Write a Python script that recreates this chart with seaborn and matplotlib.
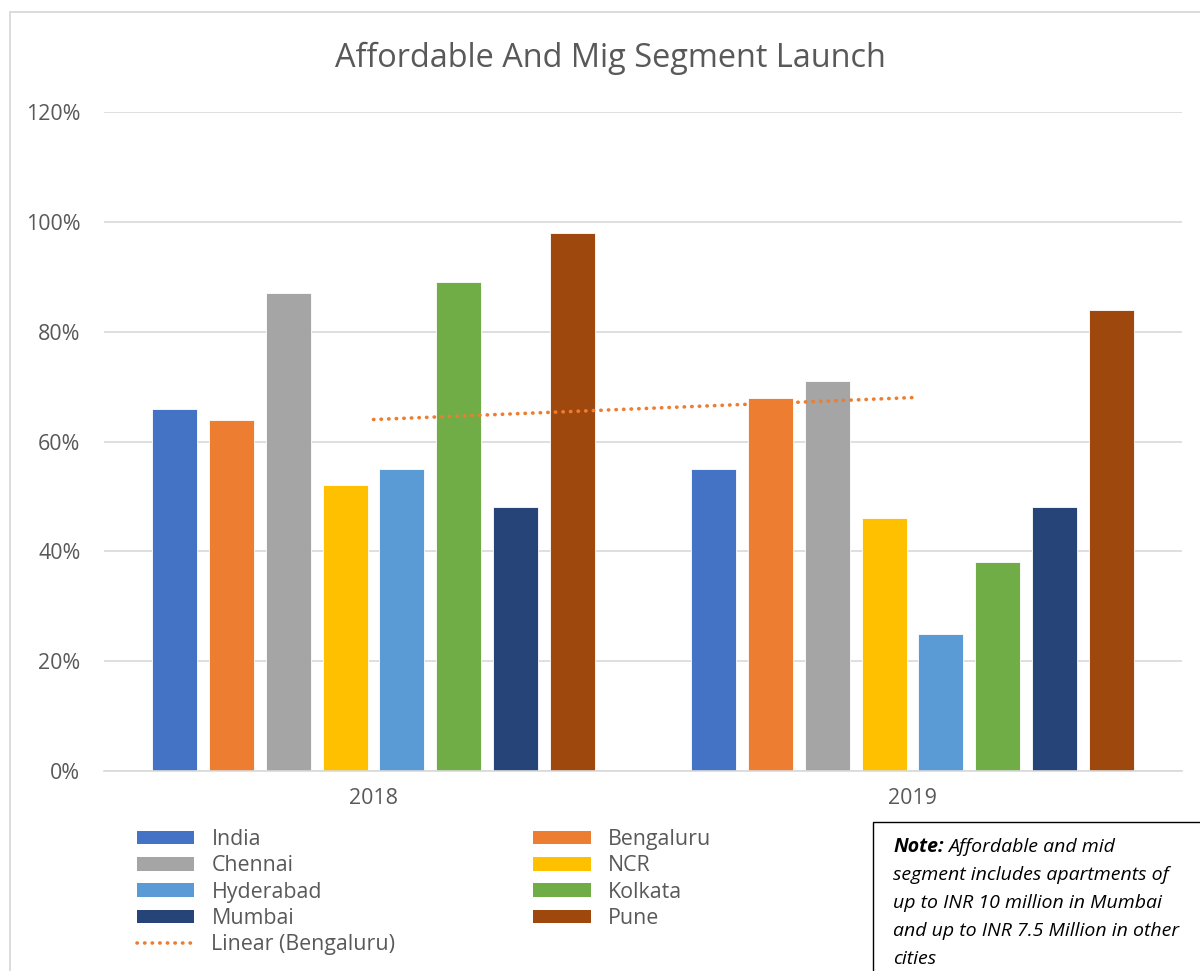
import numpy as np
import pandas as pd
import matplotlib
matplotlib.use("Agg")
import matplotlib.pyplot as plt
from matplotlib.patches import Rectangle
from matplotlib.lines import Line2D
import seaborn as sns

# ---- data -------------------------------------------------------------
years = ["2018", "2019"]
cities = ["India", "Bengaluru", "Chennai", "NCR", "Hyderabad",
          "Kolkata", "Mumbai", "Pune"]
share_2018 = [66, 64, 87, 52, 55, 89, 48, 98]
share_2019 = [55, 68, 71, 46, 25, 38, 48, 84]
city_colors = ["#4472C4", "#ED7D31", "#A5A5A5", "#FFC000",
               "#5B9BD5", "#70AD47", "#264478", "#9E480E"]
y_ticks = [0, 20, 40, 60, 80, 100, 120]

title = "Affordable And Mig Segment Launch"
note_head = "Note:"
note_first = "Affordable and mid"
note_lines = [
    "segment includes apartments of",
    "up to INR 10 million in Mumbai",
    "and up to INR 7.5 Million in other",
    "cities",
]

df = pd.DataFrame({
    "year": np.repeat(years, len(cities)),
    "city": cities * len(years),
    "share": share_2018 + share_2019,
})

# ---- style ------------------------------------------------------------
sns.set_theme(style="white")
plt.rcParams["font.family"] = ["Open Sans", "DejaVu Sans"]
txt = "#595959"
grid = "#D9D9D9"
fs = 15.4

fig = plt.figure(figsize=(12, 9.71), dpi=100)
W, H = 1200, 971


def fx(px):
    return px / W


def fy(py):
    return 1 - py / H


ax = fig.add_axes([fx(104), fy(771), fx(1182) - fx(104), fy(112) - fy(771)])

sns.barplot(data=df, x="year", y="share", hue="city", hue_order=cities,
            palette=city_colors, order=years, width=0.845, gap=0.21,
            saturation=1, ax=ax, legend=False, edgecolor="white",
            linewidth=0.6)

# linear trend of Bengaluru across the two years
beng = df[df.city == "Bengaluru"]["share"].to_numpy(dtype=float)
xs = np.arange(len(years))
slope, icpt = np.polyfit(xs, beng, 1)
ax.plot(xs, slope * xs + icpt, color="#ED7D31", linewidth=2.6,
        linestyle=(0, (0.1, 2.0)), dash_capstyle="round", zorder=5)

ax.set_xlim(-0.5, 1.5)
ax.set_ylim(0, 120)
ax.set_yticks(y_ticks)
ax.set_yticklabels([f"{v}%" for v in y_ticks])
ax.yaxis.grid(True, color=grid, linewidth=1.2)
ax.set_axisbelow(True)
for side in ["top", "right", "left"]:
    ax.spines[side].set_visible(False)
ax.spines["bottom"].set_color(grid)
ax.spines["bottom"].set_linewidth(1.2)
ax.tick_params(axis="y", length=0, pad=17, labelsize=fs, labelcolor=txt)
ax.tick_params(axis="x", length=0, pad=12, labelsize=fs, labelcolor=txt)
ax.set_xlabel("")
ax.set_ylabel("")

fig.text(fx(610), fy(58), title, ha="center", va="center",
         fontsize=23.4, color=txt)

# legend: five rows in the first column, four in the second
patch = lambda c: Rectangle((0, 0), 1, 1, facecolor=c, edgecolor="none")
handles = {c: patch(col) for c, col in zip(cities, city_colors)}
trend = Line2D([], [], color="#ED7D31", linewidth=2.6,
               linestyle=(0, (0.1, 2.0)), dash_capstyle="round")
order_h = [handles["India"], handles["Chennai"], handles["Hyderabad"],
           handles["Mumbai"], trend, handles["Bengaluru"], handles["NCR"],
           handles["Kolkata"], handles["Pune"]]
order_l = ["India", "Chennai", "Hyderabad", "Mumbai", "Linear (Bengaluru)",
           "Bengaluru", "NCR", "Kolkata", "Pune"]
leg = fig.legend(order_h, order_l, ncol=2, loc="upper left",
                 bbox_to_anchor=(fx(137), fy(829)), frameon=False,
                 fontsize=fs, handlelength=2.68, handleheight=0.61,
                 handletextpad=0.8, labelspacing=0.25, columnspacing=6.45,
                 borderpad=0, borderaxespad=0)
for t in leg.get_texts():
    t.set_color(txt)

# note box in the lower right corner
fig.patches.append(Rectangle((fx(873), fy(985)), fx(340), fy(822) - fy(985),
                             transform=fig.transFigure, facecolor="white",
                             edgecolor="black", linewidth=1.0))
nfs = 14.0
head = fig.text(fx(893), fy(847), note_head, ha="left", va="center",
                fontsize=nfs, fontweight="bold", fontstyle="italic",
                color="black")
fig.canvas.draw()
bb = head.get_window_extent()
fig.text(bb.x1 / W + fx(5), fy(847), note_first, ha="left",
         va="center", fontsize=nfs, fontstyle="italic", color="black")
for i, line in enumerate(note_lines):
    fig.text(fx(893), fy(875 + 28 * i), line, ha="left", va="center",
             fontsize=nfs, fontstyle="italic", color="black")

# outer chart border
fig.patches.append(Rectangle((fx(10), fy(985)), fx(1220), fy(12) - fy(985),
                             transform=fig.transFigure, facecolor="none",
                             edgecolor="#D9D9D9", linewidth=1.3, zorder=0))

fig.savefig("out.png", dpi=100)
